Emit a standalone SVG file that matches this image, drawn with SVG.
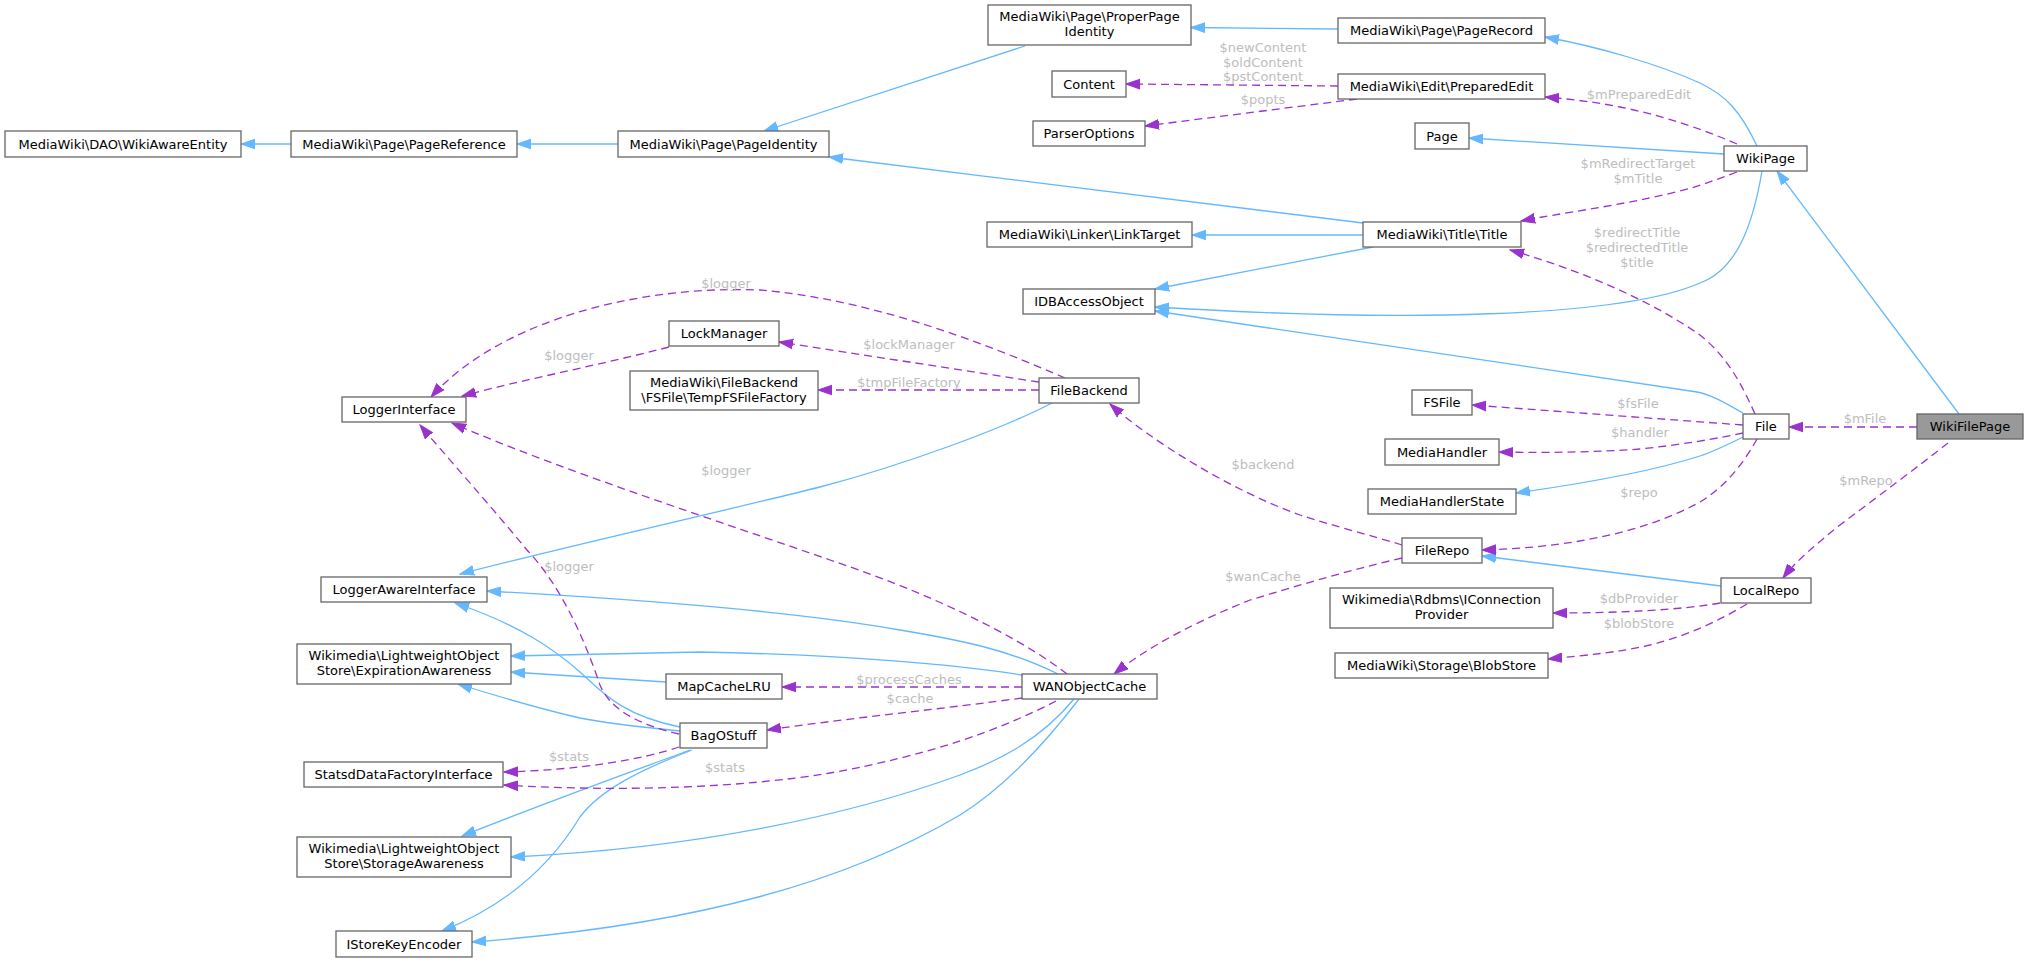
<svg xmlns="http://www.w3.org/2000/svg" width="2028" height="962" viewBox="0 0 2028 962">
<style>
.n rect{fill:#fff;stroke:#666;stroke-width:1.3}
.g rect{fill:#999}
text{font-family:"DejaVu Sans","Liberation Sans",sans-serif;font-size:13px;text-anchor:middle;fill:#000}
.l{fill:#bdbdbd}
.i{fill:none;stroke:#63b8ff;stroke-width:1.3}
.u{fill:none;stroke:#9a32cd;stroke-width:1.3;stroke-dasharray:8,5}
</style>
<defs>
<marker id="ai" markerUnits="userSpaceOnUse" markerWidth="15" markerHeight="12" viewBox="0 -6 15 12" refX="14" refY="0" orient="auto"><path d="M0,-4.8L14,0L0,4.8z" fill="#63b8ff" stroke="#63b8ff" stroke-width="1"/></marker>
<marker id="au" markerUnits="userSpaceOnUse" markerWidth="15" markerHeight="12" viewBox="0 -6 15 12" refX="14" refY="0" orient="auto"><path d="M0,-4.8L14,0L0,4.8z" fill="#9a32cd" stroke="#9a32cd" stroke-width="1"/></marker>
</defs>
<rect width="2028" height="962" fill="#fff"/>
<g id="edges">
<path class="i" marker-end="url(#ai)" d="M291,144L241,144"/>
<path class="i" marker-end="url(#ai)" d="M618,144L517,144"/>
<path class="i" marker-end="url(#ai)" d="M1025,46L764,131"/>
<path class="i" marker-end="url(#ai)" d="M1338,29L1191,27.5"/>
<path class="i" marker-end="url(#ai)" d="M1757,146C1740,110 1725,95 1700,83C1660,65 1600,47 1545,37"/>
<path class="i" marker-end="url(#ai)" d="M1724,154L1469,138"/>
<path class="i" marker-end="url(#ai)" d="M1363,223L829,157"/>
<path class="i" marker-end="url(#ai)" d="M1363,235L1192,235"/>
<path class="i" marker-end="url(#ai)" d="M1373,247L1155,289"/>
<path class="i" marker-end="url(#ai)" d="M1762,171C1752,230 1735,270 1700,283C1620,318 1400,322 1155,307"/>
<path class="i" marker-end="url(#ai)" d="M1743,413C1725,403 1712,395 1697,392L1155,311"/>
<path class="i" marker-end="url(#ai)" d="M1743,437C1725,446 1712,452 1700,456C1650,472 1580,484 1516,493"/>
<path class="i" marker-end="url(#ai)" d="M1721,586L1482,556"/>
<path class="i" marker-end="url(#ai)" d="M1959,414L1777,171"/>
<path class="i" marker-end="url(#ai)" d="M1052,403C1000,430 900,466 820,487C720,512 560,548 460,574"/>
<path class="i" marker-end="url(#ai)" d="M1058,674C1010,650 960,640 900,630C800,612 650,600 487,591"/>
<path class="i" marker-end="url(#ai)" d="M1022,675C960,665 850,655 700,652L511,656"/>
<path class="i" marker-end="url(#ai)" d="M666,682L511,672"/>
<path class="i" marker-end="url(#ai)" d="M680,731C640,727 610,724 580,718C540,709 500,697 458,684"/>
<path class="i" marker-end="url(#ai)" d="M680,727C620,715 600,690 580,672C555,650 520,625 455,603"/>
<path class="i" marker-end="url(#ai)" d="M690,750C650,765 560,797 462,836"/>
<path class="i" marker-end="url(#ai)" d="M692,750C640,770 600,790 580,817C560,850 520,900 442,931"/>
<path class="i" marker-end="url(#ai)" d="M1074,699C1040,740 1000,760 960,775C850,815 700,848 511,857"/>
<path class="i" marker-end="url(#ai)" d="M1079,699C1040,750 1000,790 960,815C850,880 700,925 472,942"/>
<path class="u" marker-end="url(#au)" d="M1338,86L1126,84"/>
<path class="u" marker-end="url(#au)" d="M1357,99L1145,126"/>
<path class="u" marker-end="url(#au)" d="M1737,144C1700,128 1660,115 1620,107C1595,102 1570,99 1545,97"/>
<path class="u" marker-end="url(#au)" d="M1737,172C1715,180 1700,186 1680,191C1620,206 1560,213 1521,221"/>
<path class="u" marker-end="url(#au)" d="M1755,414C1740,380 1725,355 1700,335C1650,300 1580,270 1510,250"/>
<path class="u" marker-end="url(#au)" d="M1743,425L1472,405"/>
<path class="u" marker-end="url(#au)" d="M1743,433C1720,438 1680,445 1640,449C1600,452 1550,453 1499,452"/>
<path class="u" marker-end="url(#au)" d="M1757,439C1740,470 1720,490 1700,502C1640,535 1560,548 1482,550"/>
<path class="u" marker-end="url(#au)" d="M1917,427L1789,427"/>
<path class="u" marker-end="url(#au)" d="M1948,443C1920,465 1880,495 1840,525C1815,545 1795,562 1783,578"/>
<path class="u" marker-end="url(#au)" d="M1720,603C1680,610 1620,613 1553,613"/>
<path class="u" marker-end="url(#au)" d="M1747,604C1720,620 1690,635 1650,645C1620,652 1590,655 1548,659"/>
<path class="u" marker-end="url(#au)" d="M1402,545C1370,535 1330,525 1300,515C1230,490 1150,440 1110,404"/>
<path class="u" marker-end="url(#au)" d="M1402,558C1350,570 1300,585 1250,600C1200,620 1150,645 1114,674"/>
<path class="u" marker-end="url(#au)" d="M1039,382L779,342"/>
<path class="u" marker-end="url(#au)" d="M1039,390L818,390"/>
<path class="u" marker-end="url(#au)" d="M1065,378C1000,350 880,300 760,290C640,285 500,320 431,397"/>
<path class="u" marker-end="url(#au)" d="M669,347C600,365 530,378 462,396"/>
<path class="u" marker-end="url(#au)" d="M1067,674C1030,645 950,600 830,560C730,525 560,470 452,423"/>
<path class="u" marker-end="url(#au)" d="M679,734C640,725 610,710 600,685C588,650 565,590 527,550C490,505 445,455 420,425"/>
<path class="u" marker-end="url(#au)" d="M679,747C640,760 580,770 504,772"/>
<path class="u" marker-end="url(#au)" d="M1056,701C1000,730 930,755 830,773C740,788 620,792 504,785"/>
<path class="u" marker-end="url(#au)" d="M1022,687L782,687"/>
<path class="u" marker-end="url(#au)" d="M1022,698C950,708 850,718 767,730"/>
<text class="l" x="1263" y="52">$newContent</text>
<text class="l" x="1263" y="67">$oldContent</text>
<text class="l" x="1263" y="81">$pstContent</text>
<text class="l" x="1263" y="103.5">$popts</text>
<text class="l" x="1639" y="99">$mPreparedEdit</text>
<text class="l" x="1638" y="168">$mRedirectTarget</text>
<text class="l" x="1638" y="183">$mTitle</text>
<text class="l" x="1637" y="237">$redirectTitle</text>
<text class="l" x="1637" y="252">$redirectedTitle</text>
<text class="l" x="1637" y="267">$title</text>
<text class="l" x="1638" y="407.5">$fsFile</text>
<text class="l" x="1640" y="437">$handler</text>
<text class="l" x="1639" y="497">$repo</text>
<text class="l" x="1865" y="422.5">$mFile</text>
<text class="l" x="1866" y="484.5">$mRepo</text>
<text class="l" x="1639" y="603">$dbProvider</text>
<text class="l" x="1639" y="628">$blobStore</text>
<text class="l" x="1263" y="469">$backend</text>
<text class="l" x="1263" y="581">$wanCache</text>
<text class="l" x="909" y="349">$lockManager</text>
<text class="l" x="909" y="387">$tmpFileFactory</text>
<text class="l" x="726" y="288">$logger</text>
<text class="l" x="569" y="360">$logger</text>
<text class="l" x="726" y="475">$logger</text>
<text class="l" x="569" y="571">$logger</text>
<text class="l" x="569" y="760.5">$stats</text>
<text class="l" x="725" y="772">$stats</text>
<text class="l" x="909" y="683.5">$processCaches</text>
<text class="l" x="910" y="703">$cache</text>
</g>
<g id="WikiAwareEntity" class="n"><rect x="5" y="131" width="236" height="26"/><text x="123" y="148.5">MediaWiki\DAO\WikiAwareEntity</text></g>
<g id="PageReference" class="n"><rect x="291" y="131" width="226" height="26"/><text x="404" y="148.5">MediaWiki\Page\PageReference</text></g>
<g id="PageIdentity" class="n"><rect x="618" y="131" width="211" height="26"/><text x="723.5" y="148.5">MediaWiki\Page\PageIdentity</text></g>
<g id="ProperPageIdentity" class="n"><rect x="988" y="5" width="203" height="40"/><text x="1089.5" y="21">MediaWiki\Page\ProperPage</text><text x="1089.5" y="36">Identity</text></g>
<g id="PageRecord" class="n"><rect x="1338" y="18" width="207" height="25"/><text x="1441.5" y="35">MediaWiki\Page\PageRecord</text></g>
<g id="Content" class="n"><rect x="1052" y="71" width="74" height="26"/><text x="1089" y="88.5">Content</text></g>
<g id="PreparedEdit" class="n"><rect x="1338" y="74" width="207" height="25"/><text x="1441.5" y="91">MediaWiki\Edit\PreparedEdit</text></g>
<g id="ParserOptions" class="n"><rect x="1033" y="121" width="112" height="25"/><text x="1089" y="138">ParserOptions</text></g>
<g id="Page" class="n"><rect x="1415" y="123" width="54" height="26"/><text x="1442" y="140.5">Page</text></g>
<g id="WikiPage" class="n"><rect x="1724" y="146" width="83" height="25"/><text x="1765.5" y="163">WikiPage</text></g>
<g id="LinkTarget" class="n"><rect x="987" y="222" width="205" height="25"/><text x="1089.5" y="239">MediaWiki\Linker\LinkTarget</text></g>
<g id="Title" class="n"><rect x="1363" y="222" width="158" height="25"/><text x="1442" y="239">MediaWiki\Title\Title</text></g>
<g id="IDBAccessObject" class="n"><rect x="1023" y="289" width="132" height="25"/><text x="1089" y="306">IDBAccessObject</text></g>
<g id="LockManager" class="n"><rect x="669" y="321" width="110" height="25"/><text x="724" y="338">LockManager</text></g>
<g id="LoggerInterface" class="n"><rect x="342" y="397" width="124" height="25"/><text x="404" y="414">LoggerInterface</text></g>
<g id="TempFSFileFactory" class="n"><rect x="630" y="371" width="188" height="39"/><text x="724" y="386.5">MediaWiki\FileBackend</text><text x="724" y="401.5">\FSFile\TempFSFileFactory</text></g>
<g id="FileBackend" class="n"><rect x="1039" y="378" width="100" height="25"/><text x="1089" y="395">FileBackend</text></g>
<g id="FSFile" class="n"><rect x="1412" y="390" width="60" height="25"/><text x="1442" y="407">FSFile</text></g>
<g id="File" class="n"><rect x="1743" y="414" width="46" height="25"/><text x="1766" y="431">File</text></g>
<g id="WikiFilePage" class="n g"><rect x="1917" y="414" width="106" height="25"/><text x="1970" y="431">WikiFilePage</text></g>
<g id="MediaHandler" class="n"><rect x="1385" y="439" width="114" height="26"/><text x="1442" y="456.5">MediaHandler</text></g>
<g id="MediaHandlerState" class="n"><rect x="1368" y="489" width="148" height="25"/><text x="1442" y="506">MediaHandlerState</text></g>
<g id="FileRepo" class="n"><rect x="1402" y="538" width="80" height="25"/><text x="1442" y="555">FileRepo</text></g>
<g id="LoggerAwareInterface" class="n"><rect x="321" y="577" width="166" height="25"/><text x="404" y="594">LoggerAwareInterface</text></g>
<g id="LocalRepo" class="n"><rect x="1721" y="578" width="90" height="25"/><text x="1766" y="595">LocalRepo</text></g>
<g id="IConnectionProvider" class="n"><rect x="1330" y="588" width="223" height="40"/><text x="1441.5" y="604">Wikimedia\Rdbms\IConnection</text><text x="1441.5" y="619">Provider</text></g>
<g id="BlobStore" class="n"><rect x="1335" y="653" width="213" height="25"/><text x="1441.5" y="670">MediaWiki\Storage\BlobStore</text></g>
<g id="ExpirationAwareness" class="n"><rect x="297" y="644" width="214" height="40"/><text x="404" y="660">Wikimedia\LightweightObject</text><text x="404" y="675">Store\ExpirationAwareness</text></g>
<g id="MapCacheLRU" class="n"><rect x="666" y="674" width="116" height="25"/><text x="724" y="691">MapCacheLRU</text></g>
<g id="WANObjectCache" class="n"><rect x="1022" y="674" width="135" height="25"/><text x="1089.5" y="691">WANObjectCache</text></g>
<g id="BagOStuff" class="n"><rect x="680" y="723" width="87" height="25"/><text x="723.5" y="740">BagOStuff</text></g>
<g id="StatsdDataFactoryInterface" class="n"><rect x="304" y="762" width="199" height="25"/><text x="403.5" y="779">StatsdDataFactoryInterface</text></g>
<g id="StorageAwareness" class="n"><rect x="297" y="837" width="214" height="40"/><text x="404" y="853">Wikimedia\LightweightObject</text><text x="404" y="868">Store\StorageAwareness</text></g>
<g id="IStoreKeyEncoder" class="n"><rect x="336" y="931" width="136" height="26"/><text x="404" y="948.5">IStoreKeyEncoder</text></g>
</svg>
